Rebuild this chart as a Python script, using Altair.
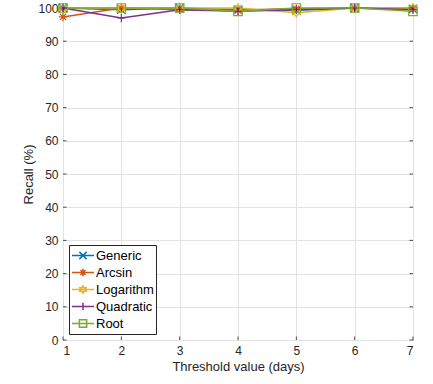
import math
import altair as alt
import pandas as pd

thresholds = [1, 2, 3, 4, 5, 6, 7]
series_names = ["Generic", "Arcsin", "Logarithm", "Quadratic", "Root"]
generic = [100.0, 99.5, 100.0, 99.5, 99.3, 100.0, 99.7]
arcsin = [97.3, 100.0, 99.5, 99.3, 99.8, 100.0, 100.0]
logarithm = [100.0, 100.0, 100.0, 100.0, 98.6, 100.0, 100.0]
quadratic = [100.0, 97.0, 99.5, 99.0, 99.5, 100.0, 99.5]
root = [100.0, 100.0, 100.0, 99.0, 100.0, 100.0, 99.0]
x_ticks = [1, 2, 3, 4, 5, 6, 7]
y_ticks = [0, 10, 20, 30, 40, 50, 60, 70, 80, 90, 100]

colors = ["#0072BD", "#D95319", "#EDB120", "#7E2F8E", "#77AC30"]

values = [generic, arcsin, logarithm, quadratic, root]
rows = []
for name, vals in zip(series_names, values):
    for t, v in zip(thresholds, vals):
        rows.append({"threshold": t, "recall": v, "method": name})
df = pd.DataFrame(rows)


def star_path(scale, dx=0.0):
    pts = []
    for k in range(12):
        ang = math.radians(90 + 30 * k)
        r = 1.0 if k % 2 == 0 else 0.577
        pts.append((dx + scale * r * math.cos(ang), -scale * r * math.sin(ang)))
    return "M" + "L".join(f"{x:.3f},{y:.3f}" for x, y in pts) + "Z"


def marker_paths(s):
    xm = f"M{-s},{-s}L{s},{s}M{-s},{s}L{s},{-s}"
    d = 0.7 * s
    ast = f"M{-s},0L{s},0M0,{-s}L0,{s}M{-d},{-d}L{d},{d}M{-d},{d}L{d},{-d}"
    hexa = star_path(s)
    plus = f"M{-s},0L{s},0M0,{-s}L0,{s}"
    sq = f"M{-s},{-s}L{s},{-s}L{s},{s}L{-s},{s}Z"
    return [xm, ast, hexa, plus, sq]


plot_shapes = marker_paths(1.0)
legend_shapes = ["M-1,0L1,0" + p for p in marker_paths(0.33)]

W, H = 350, 332
font = "Liberation Sans"
text_color = "#262626"

base = alt.Chart(df)

color_scale = alt.Scale(domain=series_names, range=colors)
x_scale = alt.Scale(domain=[1, 7], nice=False)
y_scale = alt.Scale(domain=[0, 100], nice=False)


def x_enc(field):
    return alt.X(field, scale=x_scale,
                 axis=alt.Axis(values=x_ticks, title="Threshold value (days)", format="d"))


def y_enc(field):
    return alt.Y(field, scale=y_scale,
                 axis=alt.Axis(values=y_ticks, title="Recall (%)", format="d", labelOverlap=False))


lines = base.mark_line(strokeWidth=1.5, clip=False).encode(
    x=x_enc("threshold:Q"),
    y=y_enc("recall:Q"),
    color=alt.Color("method:N", scale=color_scale, legend=None),
    detail="method:N",
)

points = base.mark_point(filled=False, size=72, strokeWidth=1.2, opacity=1).encode(
    x=x_enc("threshold:Q"),
    y=y_enc("recall:Q"),
    color=alt.Color("method:N", scale=color_scale, legend=None),
    shape=alt.Shape("method:N", scale=alt.Scale(domain=series_names, range=plot_shapes), legend=None),
)

legend_layer = base.mark_point(filled=False, size=484, strokeWidth=1.2, opacity=0).encode(
    x=x_enc("threshold:Q"),
    y=y_enc("recall:Q"),
    stroke=alt.Stroke("method:N", scale=alt.Scale(domain=series_names, range=colors),
                      legend=alt.Legend(title=None, orient="bottom-left", offset=6,
                                        symbolOpacity=1, symbolStrokeWidth=1.5,
                                        symbolSize=484, symbolFillColor="transparent",
                                        labelFontSize=13, labelFont=font, labelColor="#000000",
                                        labelOffset=1, rowPadding=0, clipHeight=17,
                                        padding=2, strokeColor=text_color, fillColor="white",
                                        cornerRadius=0)),
    shape=alt.Shape("method:N", scale=alt.Scale(domain=series_names, range=legend_shapes),
                    legend=alt.Legend(title=None, orient="bottom-left")),
)

xt = pd.DataFrame({"threshold": x_ticks})
yt = pd.DataFrame({"recall": y_ticks})
tick_x_bottom = alt.Chart(xt).mark_rule(color=text_color, strokeWidth=0.8).encode(
    x=x_enc("threshold:Q"), y=alt.value(H), y2=alt.value(H - 3.5))
tick_x_top = alt.Chart(xt).mark_rule(color=text_color, strokeWidth=0.8).encode(
    x=x_enc("threshold:Q"), y=alt.value(0), y2=alt.value(3.5))
tick_y_left = alt.Chart(yt).mark_rule(color=text_color, strokeWidth=0.8).encode(
    y=y_enc("recall:Q"), x=alt.value(0), x2=alt.value(3.5))
tick_y_right = alt.Chart(yt).mark_rule(color=text_color, strokeWidth=0.8).encode(
    y=y_enc("recall:Q"), x=alt.value(W), x2=alt.value(W - 3.5))

chart = alt.layer(
    lines, points, legend_layer, tick_x_bottom, tick_x_top, tick_y_left, tick_y_right
).resolve_scale(shape="independent", color="independent", stroke="independent").properties(
    width=W, height=H,
    padding={"left": 63, "top": 8, "right": 20, "bottom": 44},
    autosize=alt.AutoSizeParams(type="none"),
    background="white",
).configure_view(
    stroke=text_color, strokeWidth=1
).configure_axis(
    grid=True, gridColor="#e3e3e3", gridWidth=1,
    domain=False, ticks=False,
    labelFont=font, labelFontSize=12, labelColor=text_color, labelPadding=5,
    titleFont=font, titleFontSize=13, titleColor=text_color, titleFontWeight="normal",
).configure_axisX(titlePadding=4).configure_axisY(titlePadding=2)

chart.save("out.html", embed_options={"renderer": "svg", "actions": False})
